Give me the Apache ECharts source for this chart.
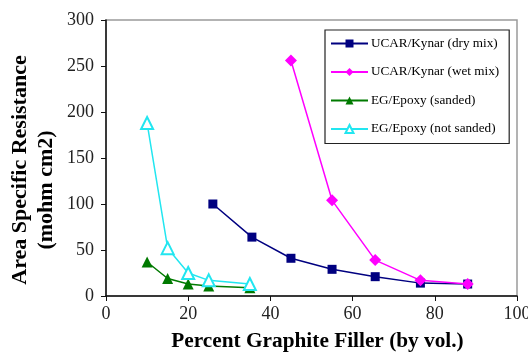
<!DOCTYPE html>
<html><head><meta charset="utf-8">
<script src="https://cdn.jsdelivr.net/npm/echarts@6/dist/echarts.min.js"></script>
<style>html,body{margin:0;padding:0;background:#fff}#c{width:528px;height:353px}</style>
</head><body><div id="c"></div>
<script>
var seriesNames = ["UCAR/Kynar (dry mix)", "UCAR/Kynar (wet mix)", "EG/Epoxy (sanded)", "EG/Epoxy (not sanded)"];
var dryMixX = [26, 35.5, 45, 55, 65.5, 76.5, 88];
var dryMixY = [100, 64, 41, 29, 21, 14, 13];
var wetMixX = [45, 55, 65.5, 76.5, 88];
var wetMixY = [256, 104, 39, 17, 13];
var sandedX = [10, 15, 20, 25, 35];
var sandedY = [37, 19, 13, 11, 9];
var notSandedX = [10, 15, 20, 25, 35];
var notSandedY = [188, 52, 25, 17, 13];
var xTicks = [0, 20, 40, 60, 80, 100];
var yTicks = [0, 50, 100, 150, 200, 250, 300];
var xTitle = 'Percent Graphite Filler (by vol.)';
var yTitle1 = 'Area Specific Resistance';
var yTitle2 = '(mohm cm2)';

function pairs(xs, ys){ return xs.map(function(x,i){ return [x, ys[i]]; }); }
var serif = '"Liberation Serif", "DejaVu Serif", serif';
var chart = echarts.init(document.getElementById('c'), null, {renderer:'canvas'});
chart.setOption({
  animation:false,
  grid:{left:106, right:11, top:20, bottom:57, containLabel:false, outerBoundsMode:'none', show:true, borderColor:'#9a9a9a', borderWidth:1.5, backgroundColor:'transparent'},
  graphic:[
    {type:'text', x:20, y:170, rotation:Math.PI/2, style:{text:yTitle1, fontFamily:serif, fontWeight:'bold', fontSize:22, fill:'#000', align:'center', verticalAlign:'middle'}},
    {type:'text', x:46.5, y:190, rotation:Math.PI/2, style:{text:yTitle2, fontFamily:serif, fontWeight:'bold', fontSize:22, fill:'#000', align:'center', verticalAlign:'middle'}}
  ],
  xAxis:{type:'value', min:xTicks[0], max:xTicks[xTicks.length-1], interval:20,
    name:xTitle, nameLocation:'middle', nameGap:35,
    nameTextStyle:{fontFamily:serif, fontWeight:'bold', fontSize:21.3, color:'#000', padding:[0,0,0,12]},
    axisLine:{lineStyle:{color:'#111', width:1.5}}, axisTick:{length:5, lineStyle:{color:'#111'}},
    axisLabel:{fontFamily:serif, fontSize:18, color:'#222', margin:9},
    splitLine:{show:false}},
  yAxis:{type:'value', min:yTicks[0], max:yTicks[yTicks.length-1], interval:50,
    axisLine:{lineStyle:{color:'#111', width:1.5}}, axisTick:{length:5, lineStyle:{color:'#111'}},
    axisLabel:{fontFamily:serif, fontSize:18, color:'#222', margin:12},
    splitLine:{show:false}},
  legend:{orient:'vertical', left:325, top:30, padding:[7,10,8,5], itemGap:15.5, itemWidth:37, itemHeight:10,
    borderColor:'#222', borderWidth:1.2, backgroundColor:'#fff',
    textStyle:{fontFamily:serif, fontSize:13.2, color:'#000', padding:[0,0,0,-2]},
    data:seriesNames},
  series:[
    {name:seriesNames[0], type:'line', data:pairs(dryMixX, dryMixY), symbol:'rect', symbolSize:9,
      itemStyle:{color:'#000080'}, lineStyle:{color:'#000080', width:1.5}},
    {name:seriesNames[1], type:'line', data:pairs(wetMixX, wetMixY), symbol:'diamond', symbolSize:12,
      itemStyle:{color:'#ff00ff'}, lineStyle:{color:'#ff00ff', width:1.5}},
    {name:seriesNames[2], type:'line', data:pairs(sandedX, sandedY), symbol:'triangle', symbolSize:11,
      itemStyle:{color:'#007a00'}, lineStyle:{color:'#007a00', width:1.5}},
    {name:seriesNames[3], type:'line', data:pairs(notSandedX, notSandedY), symbol:'emptyTriangle', symbolSize:12,
      itemStyle:{color:'#22e6f0', borderWidth:1.5}, lineStyle:{color:'#22e6f0', width:1.5}}
  ]
});
</script></body></html>
